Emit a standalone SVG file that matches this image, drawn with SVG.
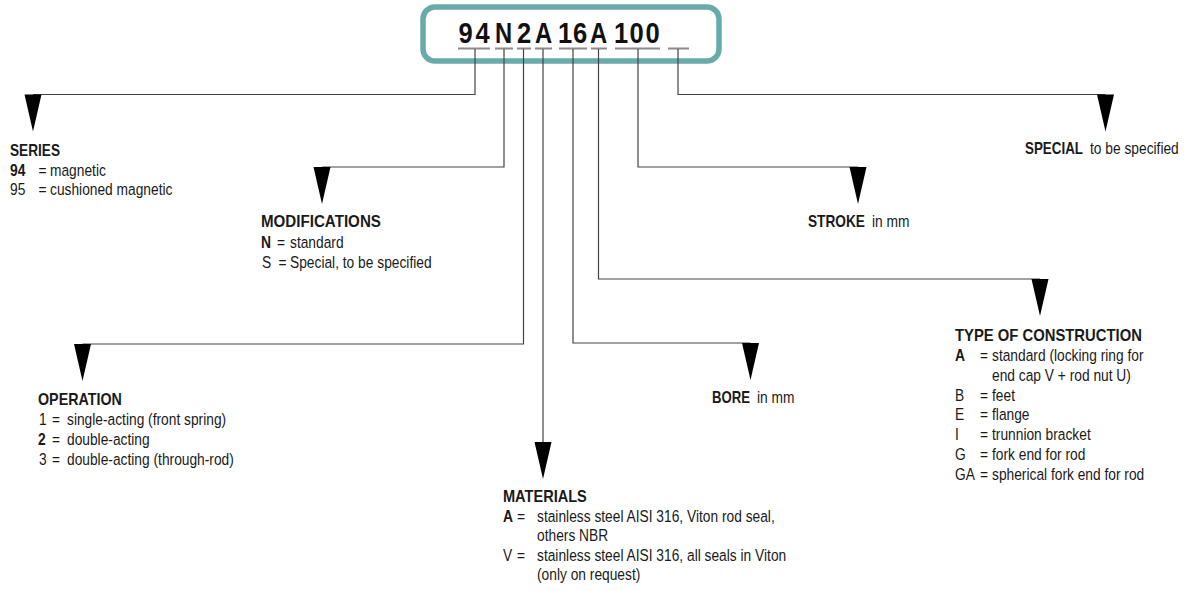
<svg xmlns="http://www.w3.org/2000/svg" xmlns:xlink="http://www.w3.org/1999/xlink" width="1193" height="591" viewBox="0 0 1193 591">
<style>
text{font-family:"Liberation Sans",Arial,sans-serif;font-size:16.5px;fill:#1a1a1a}
.b{font-weight:bold}
.code{font-size:29px;font-weight:bold;text-anchor:middle;fill:#111}
.ul{stroke:#8a8a8a;stroke-width:2;fill:none}
.ln{stroke:#444;stroke-width:1.2;fill:none}
.ah{fill:#000}
</style>
<defs>
<path id="ah" d="M-8.5,0 L8.5,0 L0,37 Z"/>
</defs>
<rect width="1193" height="591" fill="#fff"/>
<g id="code">
<rect x="423" y="7" width="296" height="54" rx="12" fill="#fff" stroke="#69abab" stroke-width="5.5"/>
<text class="code" transform="translate(465.5,43) scale(.88,1)">9</text>
<text class="code" transform="translate(482.5,43) scale(.88,1)">4</text>
<text class="code" transform="translate(503.5,43) scale(.82,1)">N</text>
<text class="code" transform="translate(524,43) scale(.88,1)">2</text>
<text class="code" transform="translate(543.5,43) scale(.82,1)">A</text>
<text class="code" transform="translate(565,43) scale(.88,1)">1</text>
<text class="code" transform="translate(580,43) scale(.88,1)">6</text>
<text class="code" transform="translate(598.5,43) scale(.82,1)">A</text>
<text class="code" transform="translate(621,43) scale(.88,1)">1</text>
<text class="code" transform="translate(636.5,43) scale(.88,1)">0</text>
<text class="code" transform="translate(652.5,43) scale(.88,1)">0</text>
<path class="ul" d="M458,48.5H490M495,48.5H513M517,48.5H531M535,48.5H552M559,48.5H587M591,48.5H607M615,48.5H660M668,48.5H689"/>
</g>
<g id="connectors">
<path class="ln" d="M475,49V94.5H33"/>
<path class="ln" d="M504,49V167H322"/>
<path class="ln" d="M523.5,49V344H82.5"/>
<path class="ln" d="M543,49V442"/>
<path class="ln" d="M573,49V343H750.5"/>
<path class="ln" d="M598.5,49V279H1040"/>
<path class="ln" d="M638,49V167H858"/>
<path class="ln" d="M678,49V94.5H1105.5"/>
<use xlink:href="#ah" class="ah" x="33" y="94.5"/>
<use xlink:href="#ah" class="ah" x="322" y="167"/>
<use xlink:href="#ah" class="ah" x="82.5" y="344"/>
<use xlink:href="#ah" class="ah" x="543" y="442"/>
<use xlink:href="#ah" class="ah" x="750.5" y="343"/>
<use xlink:href="#ah" class="ah" x="1040" y="279"/>
<use xlink:href="#ah" class="ah" x="858" y="167"/>
<use xlink:href="#ah" class="ah" x="1105.5" y="94.5"/>
</g>
<g id="series">
<text class="b" transform="translate(10,156) scale(.826,1)">SERIES</text>
<text class="b" transform="translate(10,175.5) scale(.84,1)">94</text>
<text transform="translate(38.5,175.5) scale(.835,1)">=</text>
<text transform="translate(50,175.5) scale(.835,1)">magnetic</text>
<text transform="translate(10,195) scale(.835,1)">95</text>
<text transform="translate(38.5,195) scale(.835,1)">=</text>
<text transform="translate(50,195) scale(.835,1)">cushioned magnetic</text>
</g>
<g id="modifications">
<text class="b" transform="translate(261,226.5) scale(.917,1)">MODIFICATIONS</text>
<text class="b" transform="translate(261,247.5) scale(.84,1)">N</text>
<text transform="translate(277,247.5) scale(.835,1)">=</text>
<text transform="translate(290,247.5) scale(.835,1)">standard</text>
<text transform="translate(262,267.5) scale(.835,1)">S</text>
<text transform="translate(278.5,267.5) scale(.835,1)">=</text>
<text transform="translate(290,267.5) scale(.835,1)">Special, to be specified</text>
</g>
<g id="operation">
<text class="b" transform="translate(38,405) scale(.866,1)">OPERATION</text>
<text transform="translate(39,425) scale(.835,1)">1</text>
<text transform="translate(52,425) scale(.835,1)">=</text>
<text transform="translate(67,425) scale(.835,1)">single-acting (front spring)</text>
<text class="b" transform="translate(38,445) scale(.84,1)">2</text>
<text transform="translate(52,445) scale(.835,1)">=</text>
<text transform="translate(67,445) scale(.835,1)">double-acting</text>
<text transform="translate(39,465) scale(.835,1)">3</text>
<text transform="translate(52,465) scale(.835,1)">=</text>
<text transform="translate(67,465) scale(.835,1)">double-acting (through-rod)</text>
</g>
<g id="materials">
<text class="b" transform="translate(503,502) scale(.883,1)">MATERIALS</text>
<text class="b" transform="translate(503,521.5) scale(.84,1)">A</text>
<text transform="translate(517,521.5) scale(.835,1)">=</text>
<text transform="translate(537,521.5) scale(.835,1)">stainless steel AISI 316, Viton rod seal,</text>
<text transform="translate(537,541) scale(.835,1)">others NBR</text>
<text transform="translate(503,560.5) scale(.835,1)">V</text>
<text transform="translate(517,560.5) scale(.835,1)">=</text>
<text transform="translate(537,560.5) scale(.835,1)">stainless steel AISI 316, all seals in Viton</text>
<text transform="translate(537,580) scale(.835,1)">(only on request)</text>
</g>
<g id="bore">
<text class="b" transform="translate(712,403) scale(.797,1)">BORE</text>
<text transform="translate(757,403) scale(.835,1)">in mm</text>
</g>
<g id="construction">
<text class="b" transform="translate(955,341) scale(.899,1)">TYPE OF CONSTRUCTION</text>
<text class="b" transform="translate(955,361) scale(.84,1)">A</text>
<text transform="translate(980,361) scale(.835,1)">=</text>
<text transform="translate(992,361) scale(.835,1)">standard (locking ring for</text>
<text transform="translate(992,380.5) scale(.835,1)">end cap V + rod nut U)</text>
<text transform="translate(955,400.5) scale(.835,1)">B</text>
<text transform="translate(980,400.5) scale(.835,1)">=</text>
<text transform="translate(992,400.5) scale(.835,1)">feet</text>
<text transform="translate(955,420) scale(.835,1)">E</text>
<text transform="translate(980,420) scale(.835,1)">=</text>
<text transform="translate(992,420) scale(.835,1)">flange</text>
<text transform="translate(955,440) scale(.835,1)">I</text>
<text transform="translate(980,440) scale(.835,1)">=</text>
<text transform="translate(992,440) scale(.835,1)">trunnion bracket</text>
<text transform="translate(955,460) scale(.835,1)">G</text>
<text transform="translate(980,460) scale(.835,1)">=</text>
<text transform="translate(992,460) scale(.835,1)">fork end for rod</text>
<text transform="translate(955,480) scale(.835,1)">GA</text>
<text transform="translate(980,480) scale(.835,1)">=</text>
<text transform="translate(992,480) scale(.835,1)">spherical fork end for rod</text>
</g>
<g id="stroke">
<text class="b" transform="translate(808,227) scale(.829,1)">STROKE</text>
<text transform="translate(872,227) scale(.835,1)">in mm</text>
</g>
<g id="special">
<text class="b" transform="translate(1025,154) scale(.811,1)">SPECIAL</text>
<text transform="translate(1090,154) scale(.835,1)">to be specified</text>
</g>
</svg>
